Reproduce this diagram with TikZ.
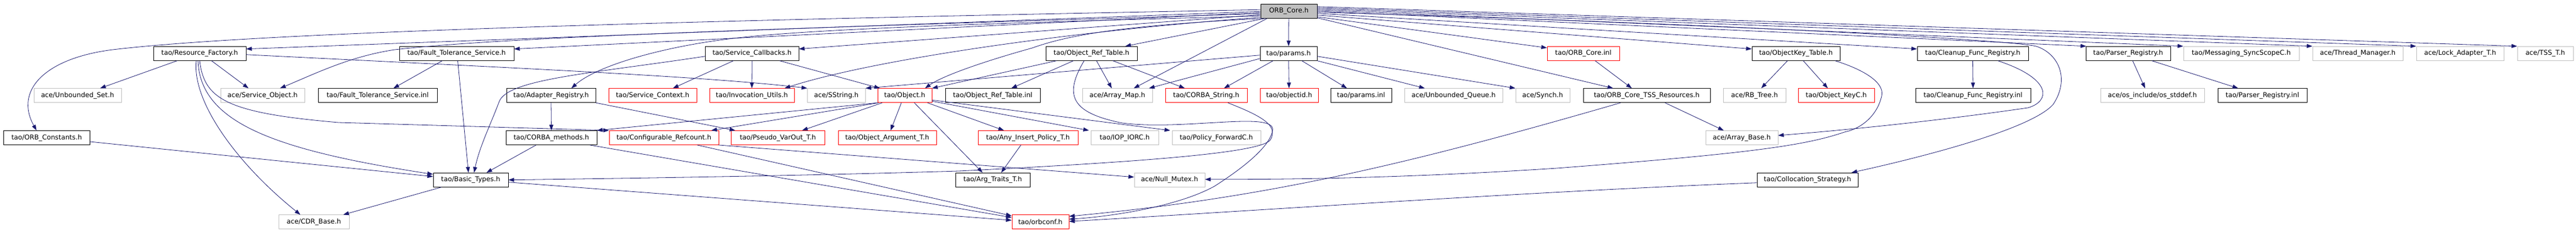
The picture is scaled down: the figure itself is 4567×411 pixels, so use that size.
\documentclass[tikz,border=0pt]{standalone}
\usepackage{fontspec}
\setmainfont{DejaVu Sans}
\usetikzlibrary{arrows.meta,calc}
\definecolor{edgecol}{HTML}{191970}
\definecolor{graycol}{HTML}{BFBFBF}
\tikzset{
  fbox/.style={draw=black, line width=0.8pt, rectangle, minimum height=25, inner sep=0pt, font=\fontsize{11.8}{14}\selectfont, text=black},
  redbox/.style={fbox, draw=red},
  extbox/.style={fbox, draw=graycol},
  rootbox/.style={fbox, fill=graycol},
  edge/.style={draw=edgecol, line width=0.8pt, -{Triangle[length=10pt,width=7pt]}},
}
\begin{document}
\begin{tikzpicture}[x=1pt,y=-1pt]
\useasboundingbox (0,0) rectangle (4567,411);
% row 0
\node[rootbox, minimum width=100] (core) at (2285,19.75) {ORB\_Core.h};
% row 1
\node[fbox, minimum width=164] (rf) at (354,94.75) {tao/Resource\_Factory.h};
\node[fbox, minimum width=203] (fts) at (809.5,94.75) {tao/Fault\_Tolerance\_Service.h};
\node[fbox, minimum width=165.5] (scb) at (1333.25,94.75) {tao/Service\_Callbacks.h};
\node[fbox, minimum width=162] (ort) at (1935,94.75) {tao/Object\_Ref\_Table.h};
\node[fbox, minimum width=101] (params) at (2284.5,94.75) {tao/params.h};
\node[redbox, minimum width=128] (coreinl) at (2807,94.75) {tao/ORB\_Core.inl};
\node[fbox, minimum width=156] (okt) at (3184,94.75) {tao/ObjectKey\_Table.h};
\node[fbox, minimum width=197] (cfr) at (3497.5,94.75) {tao/Cleanup\_Func\_Registry.h};
\node[fbox, minimum width=150] (preg) at (3773,94.75) {tao/Parser\_Registry.h};
\node[extbox, minimum width=205] (msg) at (3973.5,94.75) {tao/Messaging\_SyncScopeC.h};
\node[extbox, minimum width=160] (thr) at (4180,94.75) {ace/Thread\_Manager.h};
\node[extbox, minimum width=155] (lock) at (4361.5,94.75) {ace/Lock\_Adapter\_T.h};
\node[extbox, minimum width=99] (tss) at (4512.5,94.75) {ace/TSS\_T.h};
% row 2
\node[extbox, minimum width=155] (uset) at (137.5,169.25) {ace/Unbounded\_Set.h};
\node[extbox, minimum width=149] (sobj) at (465.5,169.25) {ace/Service\_Object.h};
\node[fbox, minimum width=211] (ftsinl) at (669.5,169.25) {tao/Fault\_Tolerance\_Service.inl};
\node[fbox, minimum width=158] (areg) at (977,169.25) {tao/Adapter\_Registry.h};
\node[redbox, minimum width=156] (sctx) at (1157,169.25) {tao/Service\_Context.h};
\node[redbox, minimum width=150] (inv) at (1333,169.25) {tao/Invocation\_Utils.h};
\node[extbox, minimum width=102.5] (sstr) at (1482.75,169.25) {ace/SString.h};
\node[redbox, minimum width=96] (obj) at (1604,169.25) {tao/Object.h};
\node[fbox, minimum width=168] (ortinl) at (1760,169.25) {tao/Object\_Ref\_Table.inl};
\node[extbox, minimum width=124] (amap) at (1981,169.25) {ace/Array\_Map.h};
\node[redbox, minimum width=145] (cstr) at (2138.5,169.25) {tao/CORBA\_String.h};
\node[redbox, minimum width=103] (oid) at (2285.5,169.25) {tao/objectid.h};
\node[fbox, minimum width=108] (pinl) at (2413,169.25) {tao/params.inl};
\node[extbox, minimum width=174] (uq) at (2577,169.25) {ace/Unbounded\_Queue.h};
\node[extbox, minimum width=96] (synch) at (2735,169.25) {ace/Synch.h};
\node[fbox, minimum width=225] (tssres) at (2919.5,169.25) {tao/ORB\_Core\_TSS\_Resources.h};
\node[extbox, minimum width=111] (rbt) at (3110.5,169.25) {ace/RB\_Tree.h};
\node[redbox, minimum width=135] (okc) at (3255.5,169.25) {tao/Object\_KeyC.h};
\node[fbox, minimum width=204] (cfrinl) at (3498,169.25) {tao/Cleanup\_Func\_Registry.inl};
\node[extbox, minimum width=184] (stddef) at (3816,169.25) {ace/os\_include/os\_stddef.h};
\node[fbox, minimum width=158] (pinl2) at (4011,169.25) {tao/Parser\_Registry.inl};
% row 3
\node[fbox, minimum width=152.5] (oconst) at (82.75,244) {tao/ORB\_Constants.h};
\node[fbox, minimum width=161] (cm) at (977.5,244) {tao/CORBA\_methods.h};
\node[redbox, minimum width=194] (cref) at (1177,244) {tao/Configurable\_Refcount.h};
\node[redbox, minimum width=166] (pvo) at (1379,244) {tao/Pseudo\_VarOut\_T.h};
\node[redbox, minimum width=174] (oarg) at (1573,244) {tao/Object\_Argument\_T.h};
\node[redbox, minimum width=177] (aip) at (1822.5,244) {tao/Any\_Insert\_Policy\_T.h};
\node[extbox, minimum width=120] (iop) at (1994,244) {tao/IOP\_IORC.h};
\node[extbox, minimum width=157] (pfc) at (2156.5,244) {tao/Policy\_ForwardC.h};
\node[extbox, minimum width=128] (abase) at (3088,244) {ace/Array\_Base.h};
% row 4
\node[fbox, minimum width=133] (bt) at (834.5,318.75) {tao/Basic\_Types.h};
\node[fbox, minimum width=132] (atr) at (1760,318.75) {tao/Arg\_Traits\_T.h};
\node[extbox, minimum width=125] (nm) at (2073.5,318.75) {ace/Null\_Mutex.h};
\node[fbox, minimum width=179] (coll) at (3204.5,318.75) {tao/Collocation\_Strategy.h};
% row 5
\node[extbox, minimum width=125] (cdr) at (556.5,393.25) {ace/CDR\_Base.h};
\node[redbox, minimum width=101] (orbconf) at (1844.5,393.25) {tao/orbconf.h};

% ---- edges from ORB_Core.h
\draw[edge] ($(core.west)+(0,0.5)$) -- ($(rf.east)+(0,-8)$);
\draw[edge] ($(core.west)+(0,2.5)$) -- ($(fts.east)+(0,-8)$);
\draw[edge] ($(core.west)+(0,6.5)$) -- ($(scb.east)+(0,-8)$);
\draw[edge] ($(core.south west)+(8,0)$) -- ($(ort.north)+(60,0)$);
\draw[edge] (core) -- (params);
\draw[edge] ($(core.west)+(0,-2.5)$) .. controls (1000,40) and (420,62) .. (200,88) .. controls (80,103) and (25,160) .. ($(oconst.north)+(-18,0)$);
\draw[edge] ($(core.west)+(0,4.5)$) .. controls (1400,50) and (900,65) .. (700,88) .. controls (620,100) and (560,130) .. ($(sobj.north)+(31,0)$);
\draw[edge] ($(core.west)+(0,8.5)$) .. controls (1800,40) and (1450,50) .. (1300,68) .. controls (1180,82) and (1060,115) .. ($(areg.north)+(36,0)$);
\draw[edge] ($(core.west)+(0,11)$) .. controls (1900,55) and (1550,105) .. ($(inv.north)+(58,0)$);
\draw[edge] ($(core.south west)+(4,0)$) .. controls (2000,45) and (1900,60) .. (1830,85) .. controls (1740,110) and (1670,135) .. ($(obj.north)+(36,0)$);
\draw[edge] ($(core.south west)+(12,0)$) -- ($(amap.north)+(29,0)$);
\draw[edge] ($(core.south east)+(0,-1)$) -- ($(tssres.north)+(-59.5,0)$);
\draw[edge] ($(core.east)+(0,10)$) -- ($(coreinl.west)+(0,-10)$);
\draw[edge] ($(core.east)+(0,7)$) -- ($(okt.west)+(0,-8)$);
\draw[edge] ($(core.east)+(0,4)$) -- ($(cfr.west)+(0,-8)$);
\draw[edge] ($(core.east)+(0,0)$) -- ($(preg.north west)+(1,0)$);
\draw[edge] ($(core.east)+(0,-2)$) -- (msg.north west);
\draw[edge] ($(core.east)+(0,-4)$) -- (thr.north west);
\draw[edge] ($(core.east)+(0,-6)$) -- (lock.north west);
\draw[edge] ($(core.east)+(0,-8)$) -- (tss.north west);
\draw[edge] ($(core.east)+(0,2)$) .. controls (3000,40) and (3560,70) .. (3610,82) .. controls (3650,95) and (3670,140) .. (3640,185) .. controls (3600,230) and (3400,280) .. ($(coll.north east)+(-12,0)$);

% ---- Resource_Factory.h
\draw[edge] ($(rf.south)+(-40,0)$) -- ($(uset.north)+(40,0)$);
\draw[edge] ($(rf.south)+(21,0)$) -- ($(sobj.north)+(-25,0)$);
\draw[edge] ($(rf.south)+(-6,0)$) .. controls (340,180) and (420,290) .. ($(cdr.north)+(-24,0)$);
\draw[edge] ($(rf.south)+(-3,0)$) .. controls (355,215) and (480,265) .. ($(bt.west)+(0,-10)$);
\draw[edge] ($(rf.south)+(0,0)$) .. controls (362,175) and (400,200) .. (600,217) -- (cref.north west);
\draw[edge] ($(rf.east)+(0,2)$) .. controls (900,120) and (1250,135) .. (sstr.north west);

% ---- Fault_Tolerance_Service.h
\draw[edge] ($(fts.south)+(-25.5,0)$) -- ($(ftsinl.north)+(28,0)$);
\draw[edge] ($(fts.south)+(2,0)$) -- ($(bt.north)+(-4,0)$);

% ---- Service_Callbacks.h
\draw[edge] ($(scb.south)+(-33,0)$) -- ($(sctx.north)+(36,0)$);
\draw[edge] (scb.south) -- (inv.north);
\draw[edge] ($(scb.south)+(49,0)$) -- ($(obj.north)+(-44,0)$);
\draw[edge] ($(scb.west)+(0,5)$) .. controls (1050,130) and (900,140) .. (885,180) .. controls (870,220) and (850,260) .. ($(bt.north)+(6,0)$);

% ---- Object_Ref_Table.h
\draw[edge] ($(ort.south)+(-32,0)$) -- ($(ortinl.north)+(33,0)$);
\draw[edge] ($(ort.south)+(-62,0)$) -- (obj.north east);
\draw[edge] ($(ort.south)+(9,0)$) -- ($(amap.north)+(-10,0)$);
\draw[edge] ($(ort.south)+(38,0)$) -- ($(cstr.north)+(-38,0)$);
\draw[edge] ($(ort.south)+(-13,0)$) .. controls (1885,170) and (1900,200) .. (1990,218) .. controls (2100,232) and (2265,195) .. (2256,232) .. controls (2250,262) and (2200,300) .. (2153,330) .. controls (2080,370) and (1950,385) .. ($(orbconf.east)+(0,-5)$);

% ---- CORBA_String.h
\draw[edge] ($(cstr.south)+(38.5,0)$) .. controls (2235,205) and (2268,222) .. (2252,248) .. controls (2235,272) and (2000,288) .. (1700,303) .. controls (1400,312) and (1100,316) .. (bt.east);

% ---- params.h
\draw[edge] (params) -- (oid);
\draw[edge] ($(params.south)+(23.5,0)$) -- ($(pinl.north)+(-25,0)$);
\draw[edge] (params.south east) -- ($(uq.north)+(-51,0)$);
\draw[edge] ($(params.east)+(0,5)$) -- (synch.north west);
\draw[edge] ($(params.west)+(0,3)$) -- (sstr.north east);
\draw[edge] ($(params.west)+(0,9)$) -- ($(amap.north)+(56,0)$);
\draw[edge] ($(params.south)+(-27.5,0)$) -- ($(cstr.north)+(31.5,0)$);

% ---- ORB_Core.inl, TSS resources
\draw[edge] ($(coreinl.south)+(21,0)$) -- ($(tssres.north)+(-26.5,0)$);
\draw[edge] ($(tssres.south)+(32.5,0)$) -- ($(abase.north)+(-32,0)$);
\draw[edge] ($(tssres.south)+(-46.5,0)$) .. controls (2500,290) and (2250,350) .. ($(orbconf.east)+(0,-10)$);

% ---- Collocation_Strategy.h
\draw[edge] ($(coll.west)+(0,5)$) .. controls (2700,340) and (2200,375) .. ($(orbconf.east)+(0,-1)$);

% ---- ObjectKey_Table.h
\draw[edge] ($(okt.south)+(-15,0)$) -- ($(rbt.north)+(12,0)$);
\draw[edge] ($(okt.south)+(13,0)$) -- ($(okc.north)+(-15,0)$);
\draw[edge] ($(okt.south east)+(-9,0)$) .. controls (3300,122) and (3342,145) .. (3336,170) .. controls (3328,205) and (3300,228) .. (3270,234) .. controls (3200,258) and (3100,272) .. (2760,298) .. controls (2500,315) and (2300,318) .. ($(nm.east)+(0,-1)$);

% ---- Cleanup_Func_Registry.h
\draw[edge] ($(cfr.south)+(44.5,0)$) .. controls (3640,140) and (3635,180) .. (3595,191) .. controls (3450,212) and (3300,228) .. ($(abase.east)+(0,-4)$);
\draw[edge] (cfr.south) -- (cfrinl.north);

% ---- Parser_Registry.h
\draw[edge] ($(preg.south)+(8,0)$) -- ($(stddef.north)+(-13,0)$);
\draw[edge] ($(preg.south)+(42,0)$) -- ($(pinl2.north)+(-43,0)$);

% ---- Adapter_Registry.h
\draw[edge] (areg.south) -- (cm.north);
\draw[edge] (areg.south east) -- ($(pvo.north west)+(8,0)$);

% ---- CORBA_methods.h
\draw[edge] ($(cm.south)+(-27,0)$) -- ($(bt.north)+(28,0)$);
\draw[edge] ($(cm.south)+(68,0)$) -- ($(orbconf.west)+(0,-8)$);

% ---- Basic_Types.h, ORB_Constants.h
\draw[edge] ($(bt.south)+(-52,0)$) -- ($(cdr.north)+(52,0)$);
\draw[edge] ($(bt.east)+(0,4)$) -- ($(orbconf.west)+(0,-3)$);
\draw[edge] ($(oconst.east)+(0,7)$) -- ($(bt.west)+(0,-6)$);

% ---- Configurable_Refcount.h
\draw[edge] ($(cref.south)+(59,0)$) -- ($(orbconf.north west)+(0,2)$);
\draw[edge] ($(cref.south east)+(-1,0)$) -- ($(nm.west)+(0,-5)$);

% ---- Object.h
\draw[edge] (obj.south west) -- (cm.north east);
\draw[edge] ($(obj.south west)+(2,0)$) -- ($(cref.north)+(84,0)$);
\draw[edge] ($(obj.south)+(-40,0)$) -- ($(pvo.north)+(43,0)$);
\draw[edge] ($(obj.south)+(-6,0)$) -- ($(oarg.north)+(6,0)$);
\draw[edge] ($(obj.south)+(17,0)$) -- ($(atr.north)+(-18,0)$);
\draw[edge] ($(obj.south east)+(-8,0)$) -- ($(aip.north)+(-42.5,0)$);
\draw[edge] ($(obj.east)+(0,10)$) -- ($(iop.north west)+(-3,0)$);
\draw[edge] ($(obj.east)+(0,8)$) -- ($(pfc.north west)+(-3,0)$);

% ---- Any_Insert_Policy_T.h
\draw[edge] ($(aip.south)+(-12.5,0)$) -- ($(atr.north)+(15,0)$);
\end{tikzpicture}
\end{document}
